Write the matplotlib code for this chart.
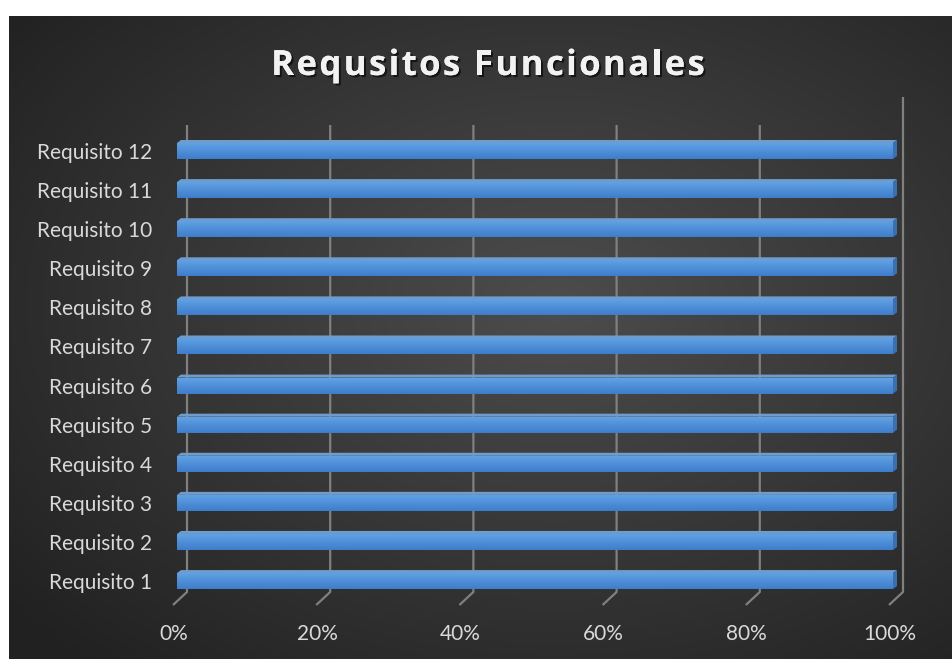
import numpy as np
import matplotlib.pyplot as plt
import matplotlib.transforms as mtransforms
import matplotlib.patheffects as pe
from matplotlib.patches import Polygon

# Avance de los requisitos funcionales (porcentaje)
requisitos = ["Requisito 1", "Requisito 2", "Requisito 3", "Requisito 4",
              "Requisito 5", "Requisito 6", "Requisito 7", "Requisito 8",
              "Requisito 9", "Requisito 10", "Requisito 11", "Requisito 12"]
avance = [100, 100, 100, 100, 100, 100, 100, 100, 100, 100, 100, 100]
ticks = [0, 20, 40, 60, 80, 100]
tick_labels = ["0%", "20%", "40%", "60%", "80%", "100%"]
titulo = "Requsitos Funcionales"

W, H = 953, 659
fig = plt.figure(figsize=(W / 100, H / 100), dpi=100)
fig.patch.set_facecolor("white")

# fondo oscuro con degradado radial
bg = fig.add_axes([9 / W, 0, (W - 9) / W, (H - 16) / H])
bg.set_axis_off()
yy, xx = np.mgrid[0:1:300j, 0:1:440j]
r = np.sqrt(((xx - 0.58) / 0.75) ** 2 + ((yy - 0.45) / 0.75) ** 2)
shade = np.clip(0.30 - 0.17 * r, 0.13, 0.30)
bg.imshow(np.dstack([shade] * 3), extent=[0, 1, 0, 1], aspect="auto",
          interpolation="bicubic")
bg.set_xlim(0, 1)
bg.set_ylim(0, 1)

font = ["Lato", "DejaVu Sans"]

# titulo con espaciado entre letras
renderer = fig.canvas.get_renderer()
title_kw = dict(va="baseline", color="#f2f2f2", fontsize=25, fontweight="bold",
                family=["Open Sans", "DejaVu Sans"],
                path_effects=[pe.withSimplePatchShadow(offset=(1.5, -1.5),
                                                       shadow_rgbFace="black",
                                                       alpha=0.6),
                              pe.Normal()])
spacing = 2.4
widths = []
for ch in titulo:
    if ch == " ":
        widths.append(9.0)
        continue
    t = fig.text(0, 0, ch, **title_kw)
    widths.append(t.get_window_extent(renderer).width)
    t.remove()
total = sum(widths) + spacing * (len(titulo) - 1)
x = 488 - total / 2
for ch, w in zip(titulo, widths):
    if ch != " ":
        fig.text(x / W, 1 - 75 / H, ch, ha="left", **title_kw)
    x += w + spacing

# ejes del plano frontal
ax = fig.add_axes([177 / W, 67 / H, 716 / W, 467 / H])
ax.set_facecolor("none")
for s in ax.spines.values():
    s.set_visible(False)

px_x = 100 / 716          # unidades de datos por pixel en x
px_y = 11.945 / 467       # unidades de datos por pixel en y

# rejilla en la pared del fondo con la diagonal del suelo
back = mtransforms.offset_copy(ax.get_xaxis_transform(), fig=fig,
                               x=10, y=0, units="dots")
for t in ticks:
    top = 1.06 if t == ticks[-1] else 1.0
    ax.plot([t, t, t - 14 * px_x], [top, 0, -13 / 467], color="#808080",
            lw=1.6, transform=back, clip_on=False, zorder=1,
            solid_capstyle="butt")

# barras 3D: cara frontal con degradado, cara superior y lateral
y = np.arange(len(requisitos))
h = 16 * px_y
dx, dy = 4 * px_x, 3 * px_y
grad = np.linspace(0, 1, 50).reshape(-1, 1)
c_top = np.array([0.38, 0.63, 0.89])
c_bot = np.array([0.24, 0.49, 0.80])
img = (c_bot + (c_top - c_bot) * grad).reshape(50, 1, 3)
for yi, v in zip(y, avance):
    bar = ax.barh(yi, v, height=h, color="#4a8ad8", zorder=3)[0]
    im = ax.imshow(img, extent=[0, v, yi - h / 2, yi + h / 2], origin="lower",
                   aspect="auto", zorder=3.5)
    im.set_clip_path(bar)
    ax.add_patch(Polygon([(0, yi + h / 2), (v, yi + h / 2),
                          (v + dx, yi + h / 2 + dy), (dx, yi + h / 2 + dy)],
                         closed=True, facecolor="#6e9ccc", edgecolor="none",
                         zorder=3, clip_on=False))
    ax.add_patch(Polygon([(v, yi - h / 2), (v + dx, yi - h / 2 + dy),
                          (v + dx, yi + h / 2 + dy), (v, yi + h / 2)],
                         closed=True, facecolor="#3b6fae", edgecolor="none",
                         zorder=3, clip_on=False))
ax.set_xlim(0, 100)
ax.set_ylim(-0.28, 11.665)

ax.set_yticks(y, requisitos)
ax.set_xticks(ticks, tick_labels)
ax.tick_params(axis="y", length=0, pad=18, labelsize=15, labelcolor="#d9d9d9")
ax.tick_params(axis="x", length=0, pad=23, labelsize=15, labelcolor="#d9d9d9")
for lab in ax.get_xticklabels() + ax.get_yticklabels():
    lab.set_family(font)
for lab in ax.get_xticklabels():
    lab.set_transform(lab.get_transform() +
                      mtransforms.ScaledTranslation(-3 / 100, 0, fig.dpi_scale_trans))

fig.savefig("out.png", dpi=100)
